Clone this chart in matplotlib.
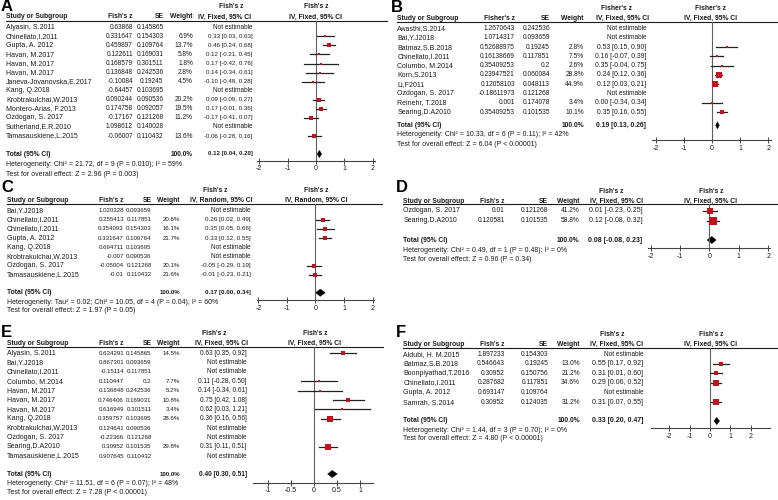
import math
import matplotlib
matplotlib.use('Agg')
import matplotlib.pyplot as plt
from matplotlib.patches import Polygon

plt.rcParams['font.family'] = ['Liberation Sans', 'DejaVu Sans']

# ---------------- data ----------------
# panel A
names_a = ["Alyasin, S.2011", "Chinellato,I.2011", "Gupta, A. 2012", "Havan, M.2017",
           "Havan, M.2017", "Havan, M.2017", "Janeva-Jovanovska,E.2017", "Kang, Q.2018",
           "Krobtrakulchai,W.2013", "Montero-Arias, F.2013", "Ozdogan, S. 2017",
           "Sutherland,E.R.2010", "Tamasauskiene,L.2015"]
z_a = ["0.63868", "0.331647", "0.459897", "0.122611", "0.168579", "0.136848", "-0.10084",
       "-0.64457", "0.090244", "0.174758", "-0.17167", "1.098612", "-0.06007"]
se_a = ["0.145865", "0.154303", "0.109764", "0.169031", "0.301511", "0.242536", "0.19245",
        "0.103695", "0.090536", "0.092057", "0.121268", "0.140028", "0.110432"]
w_a = [None, 6.9, 13.7, 5.8, 1.8, 2.8, 4.5, None, 20.2, 19.5, 11.2, None, 13.6]
est_a = [None, 0.33, 0.46, 0.12, 0.17, 0.14, -0.10, None, 0.09, 0.17, -0.17, None, -0.06]
lo_a = [None, 0.03, 0.24, -0.21, -0.42, -0.34, -0.48, None, -0.09, -0.01, -0.41, None, -0.28]
hi_a = [None, 0.63, 0.68, 0.45, 0.76, 0.61, 0.28, None, 0.27, 0.36, 0.07, None, 0.16]
total_a = (0.12, 0.04, 0.20)
het_a = "Heterogeneity: Chi\u00b2 = 21.72, df = 9 (P = 0.010); I\u00b2 = 59%"
test_a = "Test for overall effect: Z = 2.96 (P = 0.003)"

# panel B
names_b = ["Awasthi,S.2014", "Bai,Y.J2018", "Batmaz,S.B.2018", "Chinellato,I.2011",
           "Columbo, M.2014", "Korn,S.2013", "Li,F2011", "Ozdogan, S. 2017",
           "Reinehr, T.2018", "Searing,D.A2010"]
z_b = ["1.2670643", "1.0714317", "0.52688975", "0.16138669", "0.35409253", "0.23947521",
       "0.12058103", "-0.18611973", "0.001", "0.35409253"]
se_b = ["0.242536", "0.093659", "0.19245", "0.117851", "0.2", "0.060084", "0.048113",
        "0.121268", "0.174078", "0.101535"]
w_b = [None, None, 2.8, 7.5, 2.6, 28.8, 44.9, None, 3.4, 10.1]
est_b = [None, None, 0.53, 0.16, 0.35, 0.24, 0.12, None, 0.00, 0.35]
lo_b = [None, None, 0.15, -0.07, -0.04, 0.12, 0.03, None, -0.34, 0.16]
hi_b = [None, None, 0.90, 0.39, 0.75, 0.36, 0.21, None, 0.34, 0.55]
total_b = (0.19, 0.13, 0.26)
het_b = "Heterogeneity: Chi\u00b2 = 10.33, df = 6 (P = 0.11); I\u00b2 = 42%"
test_b = "Test for overall effect: Z = 6.04 (P < 0.00001)"

# panel C
names_c = ["Bai,Y.J2018", "Chinellato,I.2011", "Chinellato,I.2011", "Gupta, A. 2012",
           "Kang, Q.2018", "Krobtrakulchai,W.2013", "Ozdogan, S. 2017", "Tamasauskiene,L.2015"]
z_c = ["1.020328", "0.255413", "0.354093", "0.331647", "0.694711", "-0.007", "-0.05004", "-0.01"]
se_c = ["0.093659", "0.117851", "0.154303", "0.109764", "0.103695", "0.090536", "0.121268",
        "0.110432"]
w_c = [None, 20.6, 16.1, 21.7, None, None, 20.1, 21.6]
est_c = [None, 0.26, 0.35, 0.33, None, None, -0.05, -0.01]
lo_c = [None, 0.02, 0.05, 0.12, None, None, -0.29, -0.23]
hi_c = [None, 0.49, 0.66, 0.55, None, None, 0.19, 0.21]
total_c = (0.17, 0.00, 0.34)
het_c = "Heterogeneity: Tau\u00b2 = 0.02; Chi\u00b2 = 10.05, df = 4 (P = 0.04); I\u00b2 = 60%"
test_c = "Test for overall effect: Z = 1.97 (P = 0.05)"

# panel D
names_d = ["Ozdogan, S. 2017", "Searing,D.A2010"]
z_d = ["0.01", "0.120581"]
se_d = ["0.121268", "0.101535"]
w_d = [41.2, 58.8]
est_d = [0.01, 0.12]
lo_d = [-0.23, -0.08]
hi_d = [0.25, 0.32]
total_d = (0.08, -0.08, 0.23)
het_d = "Heterogeneity: Chi\u00b2 = 0.49, df = 1 (P = 0.48); I\u00b2 = 0%"
test_d = "Test for overall effect: Z = 0.96 (P = 0.34)"

# panel E
names_e = ["Alyasin, S.2011", "Bai,Y.J2018", "Chinellato,I.2011", "Columbo, M.2014",
           "Havan, M.2017", "Havan, M.2017", "Havan, M.2017", "Kang, Q.2018",
           "Krobtrakulchai,W.2013", "Ozdogan, S. 2017", "Searing,D.A2010",
           "Tamasauskiene,L.2015"]
z_e = ["0.634291", "0.867301", "-0.15114", "0.110447", "0.136848", "0.746406", "0.616949",
       "0.359757", "0.124641", "-0.22366", "0.30952", "0.907645"]
se_e = ["0.145865", "0.093659", "0.117851", "0.2", "0.242536", "0.169031", "0.301511",
        "0.103695", "0.090536", "0.121268", "0.101535", "0.110432"]
w_e = [14.5, None, None, 7.7, 5.2, 10.8, 3.4, 28.6, None, None, 29.8, None]
est_e = [0.63, None, None, 0.11, 0.14, 0.75, 0.62, 0.36, None, None, 0.31, None]
lo_e = [0.35, None, None, -0.28, -0.34, 0.42, 0.03, 0.16, None, None, 0.11, None]
hi_e = [0.92, None, None, 0.50, 0.61, 1.08, 1.21, 0.56, None, None, 0.51, None]
total_e = (0.40, 0.30, 0.51)
het_e = "Heterogeneity: Chi\u00b2 = 11.51, df = 6 (P = 0.07); I\u00b2 = 48%"
test_e = "Test for overall effect: Z = 7.28 (P < 0.00001)"

# panel F
names_f = ["Aldubi, H. M.2015", "Batmaz,S.B.2018", "Boonpiyathad,T.2016", "Chinellato,I.2011",
           "Gupta, A. 2012", "Samrah, S.2014"]
z_f = ["1.897233", "0.546643", "0.30952", "0.287682", "0.693147", "0.30952"]
se_f = ["0.154303", "0.19245", "0.150756", "0.117851", "0.109764", "0.124035"]
w_f = [None, 13.0, 21.2, 34.6, None, 31.2]
est_f = [None, 0.55, 0.31, 0.29, None, 0.31]
lo_f = [None, 0.17, 0.01, 0.06, None, 0.07]
hi_f = [None, 0.92, 0.60, 0.52, None, 0.55]
total_f = (0.33, 0.20, 0.47)
het_f = "Heterogeneity: Chi\u00b2 = 1.44, df = 3 (P = 0.70); I\u00b2 = 0%"
test_f = "Test for overall effect: Z = 4.80 (P < 0.00001)"

ticks_2 = [-2, -1, 0, 1, 2]
ticks_1 = [-1, -0.5, 0, 0.5, 1]

# ---------------- drawing ----------------
FS_NAME = 5.0    # study names
FS_NE = 4.7      # "Not estimable"
FS_HEAD = 4.9    # bold headers
FS_HET = 5.0     # heterogeneity / overall effect lines
INK = '#1a1a1a'
RED = '#c0141c'
W, H = 778, 500

fig = plt.figure(figsize=(W / 100, H / 100), dpi=100)
canvas = fig.add_axes([0, 0, 1, 1])
canvas.set_xlim(0, W)
canvas.set_ylim(H, 0)
canvas.axis('off')


def txt(x, y, s, size, ha='left', bold=False):
    canvas.text(x, y, s, ha=ha, va='center', fontsize=size, color=INK,
                fontweight='bold' if bold else 'normal')


def ci_str(e, l, h):
    return f'{e:.2f} [{l:.2f}, {h:.2f}]'


def forest(letter, names, z, se, w, est, lo, hi, total, het, test, zlab, method, ticks, L):
    fn, fci = L['fn'], L['fci']
    # panel letter
    canvas.text(L['lx'], L['ly'], letter, fontsize=12, fontweight='bold', color='black',
                ha='left', va='center')

    # column headers
    txt(L['name'], L['h2'], 'Study or Subgroup', FS_HEAD, bold=True)
    txt(L['z'], L['h2'], zlab, FS_HEAD, 'right', True)
    txt(L['se'], L['h2'], 'SE', FS_HEAD, 'right', True)
    txt(L['w'], L['h2'], 'Weight', FS_HEAD, 'right', True)
    txt(L['cih1'], L['h1'], zlab, FS_HEAD, 'center', True)
    txt(L['cih2'], L['h2'], method, FS_HEAD, 'center', True)
    txt(L['ph'], L['h1'], zlab, FS_HEAD, 'center', True)
    txt(L['ph'], L['h2'], method, FS_HEAD, 'center', True)
    canvas.plot([L['name'], L['ul_end']], [L['ul'], L['ul']], color=INK, lw=0.8)

    # study rows
    for i, name in enumerate(names):
        y = L['row0'] + i * L['step']
        txt(L['name'], y, name, FS_NAME)
        txt(L['z'], y, z[i], fn, 'right')
        txt(L['se'], y, se[i], fn, 'right')
        if w[i] is not None:
            txt(L['w'], y, f'{w[i]:.1f}%', fn, 'right')
        if est[i] is None:
            txt(L['ci'], y, 'Not estimable', FS_NE, 'right')
        else:
            txt(L['ci'], y, ci_str(est[i], lo[i], hi[i]), fci, 'right')

    txt(L['name'], L['total'], 'Total (95% CI)', FS_HEAD, bold=True)
    txt(L['w'], L['total'], '100.0%', fn, 'right', True)
    txt(L['ci'], L['total'], ci_str(*total), fci, 'right', True)
    txt(L['name'], L['het'], het, FS_HET)
    txt(L['name'], L['test'], test, FS_HET)

    # plot area
    x0, x1, top, bot = L['ax0'], L['ax1'], L['ul'], L['axis']
    ax = fig.add_axes([x0 / W, 1 - bot / H, (x1 - x0) / W, (bot - top) / H])
    ax.patch.set_visible(False)
    ax.set_xlim(*L['xlim'])
    ax.set_ylim((bot - L['row0']) / L['step'], (top - L['row0']) / L['step'])
    ax.axvline(0, color='#606060', lw=0.8)
    for i in range(len(names)):
        if est[i] is None:
            continue
        ax.plot([lo[i], hi[i]], [i, i], color='#222222', lw=0.9)
        side = max(2.0, 1.0 * math.sqrt(w[i]))
        ax.plot(est[i], i, 's', ms=side * 0.72, color=RED, mec=RED, mew=0)
    ty = (L['total'] - L['row0']) / L['step']
    h = 3.6 / L['step']
    e, l, hh = total
    ax.add_patch(Polygon([(l, ty), (e, ty - h), (hh, ty), (e, ty + h)],
                         closed=True, fc='black', ec='black', lw=0.3))

    for s in ('top', 'left', 'right'):
        ax.spines[s].set_visible(False)
    ax.spines['bottom'].set_color('#444444')
    ax.spines['bottom'].set_linewidth(0.8)
    ax.set_yticks([])
    ax.set_xticks(ticks)
    ax.set_xticklabels([f'{t:g}' for t in ticks])
    ax.tick_params(axis='x', direction='inout', length=4.5, width=0.7, color='#444444',
                   labelsize=FS_NAME, labelcolor=INK, pad=1.2)


forest('A', names_a, z_a, se_a, w_a, est_a, lo_a, hi_a, total_a, het_a, test_a,
       "Fish's z", 'IV, Fixed, 95% CI', ticks_2,
       dict(lx=1, ly=6.5, name=6, z=133, se=163.5, w=193, ci=252.5, cih1=231.7, cih2=225,
            ph=316, h1=6, h2=17, ul=21, ul_end=387, row0=27.3, step=9.06, total=154,
            het=164.3, test=174, ax0=256.7, ax1=375, axis=160.5, xlim=(-2.09, 2.08),
            fn=4.7, fci=4.4))

forest('B', names_b, z_b, se_b, w_b, est_b, lo_b, hi_b, total_b, het_b, test_b,
       "Fisher's z", 'IV, Fixed, 95% CI', ticks_2,
       dict(lx=391, ly=8, name=397.3, z=515, se=550, w=584, ci=646.3, cih1=616.7, cih2=623,
            ph=711, h1=8.3, h2=18.3, ul=22.3, ul_end=777, row0=28.7, step=9.26, total=125.3,
            het=134.7, test=144, ax0=651.7, ax1=770.7, axis=140, xlim=(-2.15, 2.09),
            fn=4.8, fci=4.9))

forest('C', names_c, z_c, se_c, w_c, est_c, lo_c, hi_c, total_c, het_c, test_c,
       "Fish's z", 'IV, Random, 95% CI', ticks_2,
       dict(lx=1, ly=187.5, name=6.7, z=124, se=151.7, w=180, ci=251, cih1=215, cih2=221,
            ph=316, h1=190.7, h2=200.5, ul=204, ul_end=382, row0=210.7, step=9.14,
            total=292.7, het=302, test=311, ax0=256.7, ax1=374, axis=300,
            xlim=(-2.06, 2.05), fn=4.4, fci=4.5))

forest('D', names_d, z_d, se_d, w_d, est_d, lo_d, hi_d, total_d, het_d, test_d,
       "Fish's z", 'IV, Fixed, 95% CI', ticks_2,
       dict(lx=396, ly=188, name=403.3, z=505, se=548.3, w=579.3, ci=642.3, cih1=611.7,
            cih2=616.7, ph=711, h1=191.7, h2=201.7, ul=204, ul_end=777, row0=211, step=10,
            total=240, het=250, test=259.3, ax0=648, ax1=770, axis=248.3,
            xlim=(-2.09, 2.06), fn=4.8, fci=5.0))

forest('E', names_e, z_e, se_e, w_e, est_e, lo_e, hi_e, total_e, het_e, test_e,
       "Fish's z", 'IV, Fixed, 95% CI', ticks_1,
       dict(lx=1, ly=332.5, name=6.7, z=124, se=151.7, w=180, ci=246.7, cih1=214.7,
            cih2=221.7, ph=315, h1=333.3, h2=343.3, ul=346.5, ul_end=383, row0=353.3,
            step=9.34, total=474, het=483.3, test=492.7, ax0=253.3, ax1=373.3,
            axis=482.7, xlim=(-1.31, 1.29), fn=4.4, fci=4.7))

forest('F', names_f, z_f, se_f, w_f, est_f, lo_f, hi_f, total_f, het_f, test_f,
       "Fish's z", 'IV, Fixed, 95% CI', ticks_2,
       dict(lx=396, ly=332.5, name=403.3, z=505, se=548.3, w=580, ci=643.3, cih1=612.5,
            cih2=616.7, ph=711, h1=335, h2=344, ul=348, ul_end=777, row0=354.3, step=9.55,
            total=421, het=430, test=439, ax0=650.7, ax1=770, axis=428.3,
            xlim=(-2.9, 2.94), fn=4.8, fci=5.0))

fig.savefig('out.png', dpi=100)
